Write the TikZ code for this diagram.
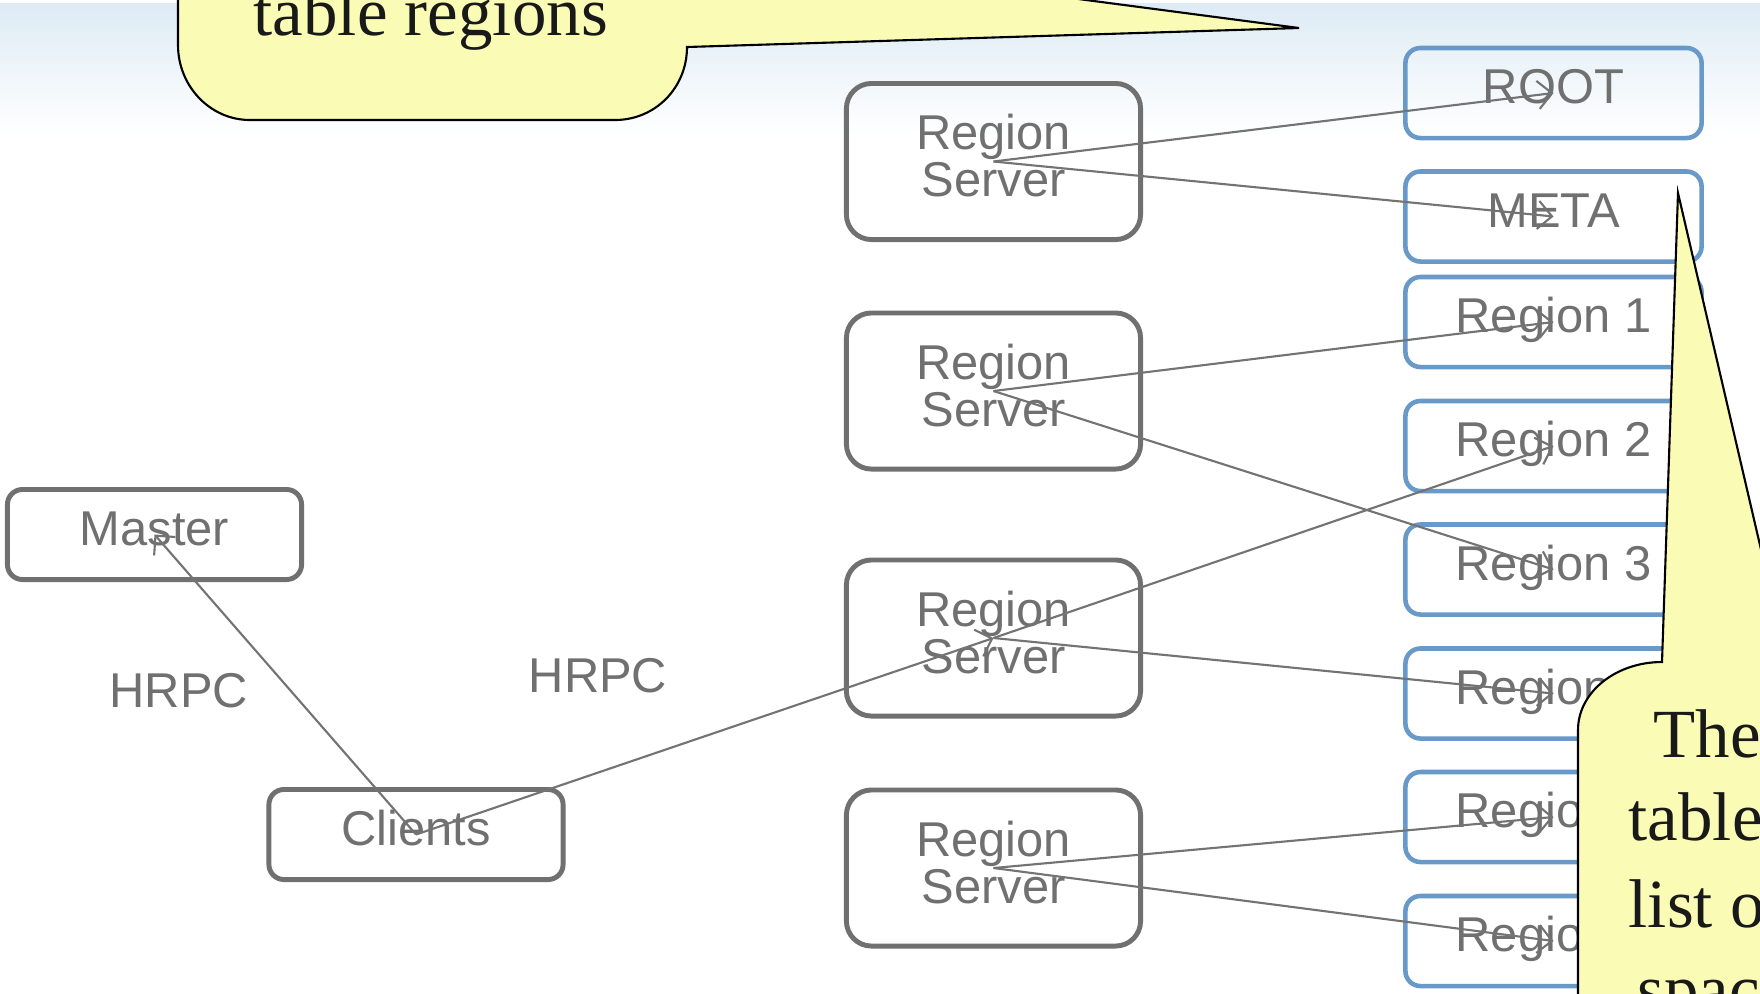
\documentclass[tikz,border=0pt]{standalone}
\usepackage{fontspec}
\setmainfont{Liberation Serif}
\setsansfont{Liberation Sans}
\usetikzlibrary{arrows.meta}
\definecolor{boxgray}{RGB}{112,112,112}
\definecolor{regblue}{RGB}{104,153,201}
\definecolor{linegray}{RGB}{115,115,115}
\definecolor{noteyellow}{RGB}{250,251,180}
\definecolor{skyblue}{RGB}{221,235,245}
\begin{document}
\begin{tikzpicture}[x=0.01cm, y=-0.01cm,
  label text/.style={text=boxgray, font=\sffamily\fontsize{13.9pt}{13.4pt}\selectfont},
  gray box/.style={label text, draw=boxgray, line width=1.4pt, rounded corners=0.15cm, minimum width=2.94cm, minimum height=0.9cm, text height=0.35cm, text depth=0.14cm},
  server box/.style={label text, draw=boxgray, line width=1.4pt, rounded corners=0.25cm, minimum width=2.94cm, minimum height=1.56cm, align=center, text depth=0.12cm},
  region box/.style={label text, draw=regblue, line width=1.3pt, rounded corners=0.15cm, minimum width=2.96cm, minimum height=0.9cm, text height=0.35cm, text depth=0.14cm},
  link/.style={draw=linegray, line width=0.6pt, -{Straight Barb[length=4pt,width=8pt]}},
  note/.style={draw=black, line width=0.6pt, fill=noteyellow},
  note text/.style={font=\fontsize{19.6pt}{24pt}\selectfont, text=black!90, anchor=base west, inner sep=0pt}]
\useasboundingbox (0,0) rectangle (1760,993);
\clip (0,0) rectangle (1760,993);
\fill [white] (0,0) rectangle (1760,993);
\shade [top color=skyblue, bottom color=white] (0,3) rectangle (1760,135);
%% left side
\node [gray box] (master) at (154.5,534.5) {Master};
\node [gray box] (clients) at (416,834.5) {Clients};
\node [label text, anchor=base west, inner sep=0pt] (hrpcA) at (109,707) {HRPC};
\node [label text, anchor=base west, inner sep=0pt] (hrpcB) at (528,692) {HRPC};
%% region servers
\node [server box] (rs1) at (993.5,161.5) {Region\\Server};
\node [server box] (rs2) at (993.5,391) {Region\\Server};
\node [server box] (rs3) at (993.5,638) {Region\\Server};
\node [server box] (rs4) at (993.5,868) {Region\\Server};
%% regions
\node [region box] (root) at (1553.5,93) {ROOT};
\node [region box] (meta) at (1553.5,216.5) {META};
\node [region box] (reg1) at (1553.5,322) {Region 1};
\node [region box] (reg2) at (1553.5,446) {Region 2};
\node [region box] (reg3) at (1553.5,569.5) {Region 3};
\node [region box] (reg4) at (1553.5,693.5) {Region\phantom{\ 4}};
\node [region box] (reg5) at (1553.5,817) {Region\phantom{\ 5}};
\node [region box] (reg6) at (1553.5,941) {Region\phantom{\ 6}};
%% connections
\draw [link] (clients.center) -- (master.center);
\draw [link] (clients.center) -- (rs3.center);
\draw [link] (rs1.center) -- (root.center);
\draw [link] (rs1.center) -- (meta.center);
\draw [link] (rs2.center) -- (reg1.center);
\draw [link] (rs2.center) -- (reg3.center);
\draw [link] (rs3.center) -- (reg2.center);
\draw [link] (rs3.center) -- (reg4.center);
\draw [link] (rs4.center) -- (reg5.center);
\draw [link] (rs4.center) -- (reg6.center);
%% callouts
\draw [note] (178,-20) -- (178,45) .. controls (178,86) and (210,120) .. (250,120) -- (615,120) .. controls (655,120) and (687,88) .. (687,47) -- (1299,28) -- (934,-20) -- cycle;
\node [note text] (noteA) at (253,35) {table regions};
\draw [note] (1578,1050) -- (1578,730) .. controls (1578,692) and (1616,662) .. (1662,662) -- (1678,193) -- (1800,717) -- (1800,1050) -- cycle;
\node [note text] (noteB1) at (1653,757) {The};
\node [note text] (noteB2) at (1628,840) {table};
\node [note text] (noteB3) at (1628,927) {list o};
\node [note text] (noteB4) at (1637,1012) {spac};
\end{tikzpicture}
\end{document}
